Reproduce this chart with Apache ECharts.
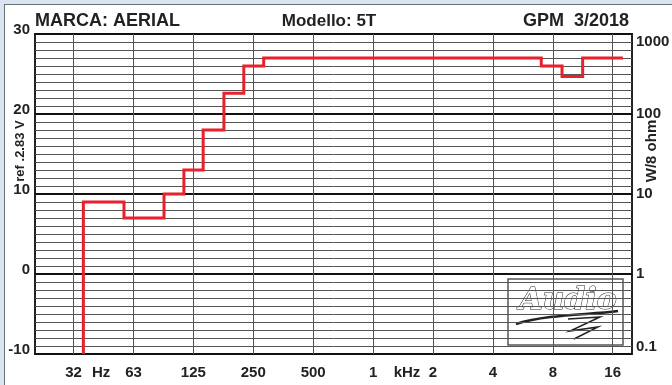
<!DOCTYPE html>
<html>
<head>
<meta charset="utf-8">
<script src="https://cdn.jsdelivr.net/npm/echarts@6/dist/echarts.min.js"></script>
<style>
html,body{margin:0;padding:0;background:#dbe5f2;}
#panel{position:absolute;left:4px;top:4px;width:668px;height:381px;background:#fff;border-left:1.5px solid #6a6f78;border-top:1.5px solid #6a6f78;box-sizing:border-box;}
#chart{position:absolute;left:0;top:0;width:672px;height:385px;}
</style>
</head>
<body>
<div id="panel"></div>
<div id="chart"></div>
<script>
// ---- data ----
const titleLeft = 'MARCA: AERIAL';
const titleCenter = 'Modello: 5T';
const titleRight = 'GPM  3/2018';
const leftAxisName = 'ref .2.83 V';
const rightAxisName = 'W/8 ohm';

// x axis (Hz), octave grid lines and their labels
const xTickValues = [31.25, 62.5, 125, 250, 500, 1000, 2000, 4000, 8000, 16000];
const xTickLabels = ['32', '63', '125', '250', '500', '1', '2', '4', '8', '16'];
const xUnitValues = [43, 1480];
const xUnitLabels = ['Hz', 'kHz'];

// right axis (W/8 ohm)
const rightTickLabels = ['0.1', '1', '10', '100', '1000'];

// step curve: band edges (Hz) and level in each band (dB)
const bandEdges = [35, 56, 89, 112, 140, 178, 224, 282, 7000, 8900, 11300, 18000];
const bandLevels = [9, 7, 10, 13, 18, 22.6, 26, 27, 26, 24.7, 27];
const curveFloor = -10;

// ---- build ----
const linePts = [[bandEdges[0], curveFloor]];
for (let i = 0; i < bandLevels.length; i++) {
  linePts.push([bandEdges[i], bandLevels[i]]);
  linePts.push([bandEdges[i + 1], bandLevels[i]]);
}
const labelMap = {};
xTickValues.forEach((v, i) => labelMap[v] = xTickLabels[i]);
xUnitValues.forEach((v, i) => labelMap[v] = xUnitLabels[i]);
const allLabelValues = xTickValues.concat(xUnitValues).sort((a, b) => a - b);

const FONT = '"Liberation Sans", Arial, sans-serif';
const chart = echarts.init(document.getElementById('chart'), null, {renderer: 'canvas'});
chart.setOption({
  backgroundColor: 'transparent',
  animation: false,
  grid: {left: 35, right: 40, top: 34, bottom: 31, containLabel: false, outerBoundsMode: 'none',
         show: true, borderColor: '#222', borderWidth: 2, backgroundColor: 'transparent'},
  xAxis: {
    type: 'log', logBase: 10, min: 20, max: 20000,
    axisLine: {show: false},
    axisTick: {show: false, customValues: xTickValues},
    splitLine: {show: true, lineStyle: {color: '#555', width: 1}},
    axisLabel: {
      customValues: allLabelValues,
      margin: 11,
      fontSize: 15, fontWeight: 'bold', color: '#222', fontFamily: FONT,
      formatter: v => {
        let best = null, bd = 1e9;
        for (const k in labelMap) { const d = Math.abs(Math.log(+k) - Math.log(v)); if (d < bd) { bd = d; best = labelMap[k]; } }
        return best;
      }
    }
  },
  yAxis: [{
    type: 'value', min: -10, max: 30, interval: 10, position: 'left',
    name: leftAxisName, nameLocation: 'middle', nameRotate: 90, nameGap: 8, nameMoveOverlap: false,
    nameTextStyle: {fontSize: 13, fontWeight: 'bold', color: '#222', fontFamily: FONT, padding: [0, 0, 0, 86]},
    axisLine: {show: false}, axisTick: {show: false},
    axisLabel: {margin: 5, fontSize: 15, fontWeight: 'bold', color: '#222', fontFamily: FONT, verticalAlign: 'bottom', padding: [0, 0, -3, 0]},
    splitLine: {show: true, lineStyle: {color: '#111', width: 2}},
    minorTick: {show: false, splitNumber: 10},
    minorSplitLine: {show: true, lineStyle: {color: '#555', width: 1}}
  }, {
    type: 'log', logBase: 10, min: 0.1, max: 1000, position: 'right',
    name: rightAxisName, nameLocation: 'middle', nameRotate: 90, nameGap: 12, nameMoveOverlap: false,
    nameTextStyle: {fontSize: 15, fontWeight: 'bold', color: '#222', fontFamily: FONT, padding: [0, 0, 0, 86]},
    axisLine: {show: false}, axisTick: {show: false}, splitLine: {show: false},
    axisLabel: {
      margin: 4, fontSize: 15, fontWeight: 'bold', color: '#222', fontFamily: FONT,
      verticalAlign: 'middle', verticalAlignMaxLabel: 'top', verticalAlignMinLabel: 'bottom',
      formatter: (v, i) => rightTickLabels[i]
    }
  }],
  series: [{
    type: 'line', xAxisIndex: 0, yAxisIndex: 0, data: linePts,
    showSymbol: false, symbol: 'none', clip: true,
    lineStyle: {color: '#e8212b', width: 3, join: 'miter', cap: 'butt'},
    z: 5
  }],
  graphic: [
    {type: 'text', x: 35, y: 21.5, style: {text: titleLeft, font: 'bold 18px ' + FONT, fill: '#222', align: 'left', verticalAlign: 'middle'}},
    {type: 'text', x: 329, y: 21.5, style: {text: titleCenter, font: 'bold 17px ' + FONT, fill: '#222', align: 'center', verticalAlign: 'middle'}},
    {type: 'text', x: 629, y: 21.5, style: {text: titleRight, font: 'bold 18px ' + FONT, fill: '#222', align: 'right', verticalAlign: 'middle'}},
    {type: 'group', x: 508, y: 279, z: 10, children: [
      {type: 'rect', shape: {x: 0, y: 0, width: 115, height: 66}, style: {fill: '#fff', stroke: '#555', lineWidth: 1.5}},
      {type: 'text', x: 60, y: 22, style: {text: 'Audio', font: 'italic bold 30px "DejaVu Serif", serif', fill: '#fff', stroke: '#222', lineWidth: 1, align: 'center', verticalAlign: 'middle'}},
      {type: 'bezierCurve', shape: {x1: 8, y1: 45, x2: 110, y2: 32, cpx1: 40, cpy1: 35, cpx2: 80, cpy2: 36}, style: {stroke: '#222', lineWidth: 2.5, fill: null}},
      {type: 'polyline', shape: {points: [[60, 40], [92, 38], [62, 52], [90, 48], [66, 60]]}, style: {stroke: '#222', lineWidth: 1.5, fill: null}}
    ]}
  ]
});
</script>
</body>
</html>
